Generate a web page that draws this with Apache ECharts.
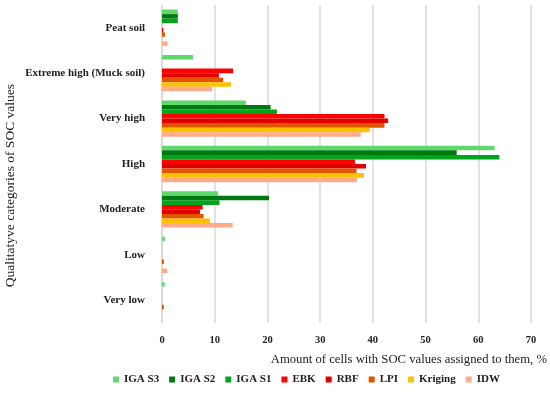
<!DOCTYPE html>
<html><head><meta charset="utf-8">
<script src="https://cdn.jsdelivr.net/npm/echarts@6/dist/echarts.min.js"></script>
<style>html,body{margin:0;padding:0;background:#fff}#c{width:550px;height:394px}</style>
</head><body><div id="c"></div>
<script>
const categories = ['Peat soil','Extreme high (Muck soil)','Very high','High','Moderate','Low','Very low'];
const seriesNames = ['IGA S3','IGA S2','IGA S1','EBK','RBF','LPI','Kriging','IDW'];
const igaS3   = [3.0, 5.9, 15.9, 63.1, 10.6, 0.55, 0.5];
const igaS2   = [3.0, 0,   20.6, 55.9, 20.3, 0,    0];
const igaS1   = [3.0, 0,   21.8, 64.0, 10.9, 0,    0];
const ebk     = [0,   13.5, 42.2, 36.6, 7.7, 0,    0];
const rbf     = [0.25,10.8, 42.9, 38.7, 7.2, 0,    0];
const lpi     = [0.55,11.6, 42.2, 36.9, 7.9, 0.35, 0.35];
const kriging = [0,   13.1, 39.4, 38.3, 9.1, 0,    0];
const idw     = [1.07, 9.5, 37.7, 37.0, 13.4, 1.0,  0];
const xTicks = [0,10,20,30,40,50,60,70];
const colors = ['#5fd96b','#007a10','#00a51c','#ff0000','#e00000','#e05500','#ffc000','#ffaa88'];
const values = [igaS3, igaS2, igaS1, ebk, rbf, lpi, kriging, idw];
const font = 'Liberation Serif';
const chart = echarts.init(document.getElementById('c'), null, {renderer:'canvas'});
chart.setOption({
  animation:false,
  color: colors,
  textStyle:{fontFamily:font},
  grid:{left:162, right:19, top:5, bottom:71, containLabel:false},
  legend:{
    data: seriesNames, bottom:4, left:108,
    itemWidth:6, itemHeight:6, itemGap:10, icon:'rect',
    textStyle:{fontFamily:font, fontWeight:'bold', fontSize:11, color:'#222'}
  },
  xAxis:{
    type:'value', min:xTicks[0], max:xTicks[xTicks.length-1], interval:10,
    axisLine:{show:false}, axisTick:{show:false},
    splitLine:{lineStyle:{color:'#d9d9d9', width:1.5}},
    axisLabel:{fontFamily:font, fontWeight:'bold', fontSize:10.5, color:'#222', margin:12},
    name:'Amount of cells with SOC values assigned to them, %',
    nameLocation:'end', nameGap:0,
    nameTextStyle:{fontFamily:font, fontSize:12.7, color:'#222', align:'right', verticalAlign:'top', padding:[30,-16,0,0]}
  },
  yAxis:{
    type:'category', data:categories, inverse:true,
    axisLine:{show:true, lineStyle:{color:'#d9d9d9', width:1.5}},
    axisTick:{show:false},
    axisLabel:{fontFamily:font, fontWeight:'bold', fontSize:11, color:'#222', margin:17}
  },
  graphic:[{
    type:'text', left:3, top:84, rotation:Math.PI/2,
    style:{text:'Qualitatyve categories of SOC values', fontFamily:font, fontSize:13.5, fill:'#222'}
  }],
  series: seriesNames.map((n,i)=>({
    name:n, type:'bar', data:values[i], barGap:'0%', barCategoryGap:'20%'
  }))
});
</script></body></html>
